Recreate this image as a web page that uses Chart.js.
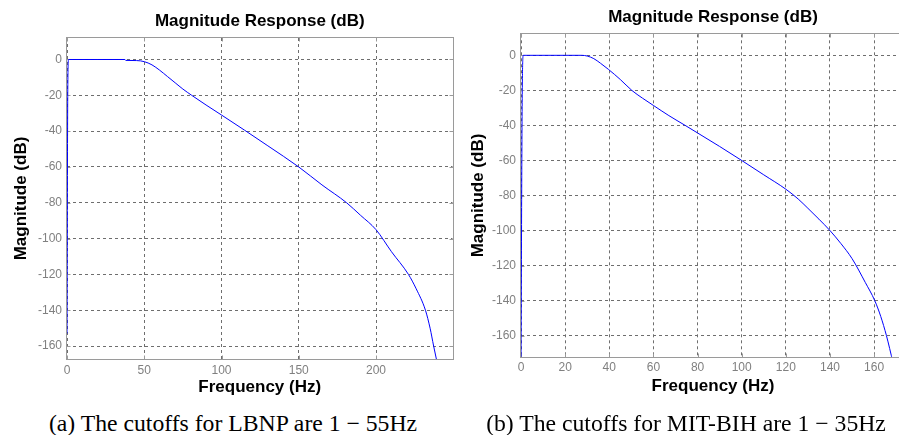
<!DOCTYPE html>
<html>
<head>
<meta charset="utf-8">
<title>Magnitude Response (dB)</title>
<script src="https://cdn.jsdelivr.net/npm/chart.js@4.4.1/dist/chart.umd.min.js"></script>
<style>
    html, body { margin: 0; padding: 0; background: #fff; overflow: hidden; }
    body { width: 899px; height: 435px; position: relative; }
    canvas { position: absolute; top: 0; }
    #chartA { left: 0; }
    #chartB { left: 450px; }
    .caption {
        position: absolute;
        top: 411px;
        font-family: "Liberation Serif", "Times New Roman", serif;
        font-size: 23.7px;
        line-height: 24px;
        white-space: nowrap;
        transform: translateX(-50%);
        color: #000;
    }
</style>
</head>
<body>
<canvas id="chartA" width="458" height="400"></canvas>
<canvas id="chartB" width="460" height="400"></canvas>
<div class="caption" style="left: 233px;">(a) The cutoffs for LBNP are 1 &minus; 55Hz</div>
<div class="caption" style="left: 686px;">(b) The cutoffs for MIT-BIH are 1 &minus; 35Hz</div>

<script>
// ==========================================
// Filter responses (frequency in Hz, magnitude in dB)
// ==========================================
const freqA = [0, 0.5, 1, 20, 37.5, 38, 45, 50, 55, 60, 65, 70, 75, 80.7, 90, 100, 115, 130, 150, 165, 181, 190, 200, 210, 221, 226, 232, 235, 237.3, 241];
const magA = [-153, -17, 0, 0, 0, -0.5, -0.6, -1.2, -3, -6, -9.5, -13, -16.5, -20, -25.4, -31, -39.5, -48.2, -60, -70, -80, -87, -95, -107.3, -120, -128, -140, -150, -160, -175];

const freqB = [0, 0.5, 1, 20, 27.5, 30, 33, 36, 39.6, 45, 50.2, 55, 60, 67, 74.4, 80, 90, 100, 110, 120, 125.6, 130, 135, 140, 145, 150, 156, 160.3, 163, 165.6, 168.5];
const magB = [-175, -32, 0, 0, 0, -0.4, -1.9, -4.5, -8, -13.8, -20, -24.4, -28.6, -34.4, -40, -44.3, -52, -60, -68.2, -76.4, -82, -87.3, -93.5, -100, -107.5, -116, -129.6, -140, -149, -160, -175];

// tick values on each axis
const yTicksDb = [-160, -140, -120, -100, -80, -60, -40, -20, 0];
const xTicksA = [0, 50, 100, 150, 200];
const xTicksB = [0, 20, 40, 60, 80, 100, 120, 140, 160];

const SANS = '"Liberation Sans", Arial, Helvetica, sans-serif';
const GRID_COLOR = '#6e6e6e';
const FRAME_COLOR = '#9a9a9a';

// ==========================================
// Box around the axes with short inward ticks
// ==========================================
const framePlugin = {
    id: 'frame',
    beforeDatasetsDraw(chart) {
        const { ctx, chartArea: a, scales } = chart;
        const l = Math.round(a.left) - 0.5;
        const r = Math.round(a.right) + 0.5;
        const t = Math.round(a.top) - 0.5;
        const b = Math.round(a.bottom) + 0.5;
        ctx.save();
        ctx.strokeStyle = FRAME_COLOR;
        ctx.lineWidth = 1;
        ctx.strokeRect(l, t, r - l, b - t);
        ctx.beginPath();
        scales.x.ticks.forEach(tk => {
            const x = Math.round(scales.x.getPixelForValue(tk.value)) + 0.5;
            ctx.moveTo(x, b); ctx.lineTo(x, b - 4);
            ctx.moveTo(x, t); ctx.lineTo(x, t + 4);
        });
        scales.y.ticks.forEach(tk => {
            const y = Math.round(scales.y.getPixelForValue(tk.value)) + 0.5;
            ctx.moveTo(l, y); ctx.lineTo(l + 4, y);
            ctx.moveTo(r, y); ctx.lineTo(r - 4, y);
        });
        ctx.stroke();
        ctx.restore();
    }
};

function buildChart(canvasId, freq, mag, cfg) {
    const ctx = document.getElementById(canvasId);
    return new Chart(ctx, {
        type: 'line',
        data: {
            datasets: [{
                data: freq.map((f, i) => ({ x: f, y: mag[i] })),
                borderColor: '#0000ff',
                borderWidth: 1,
                pointRadius: 0,
                fill: false,
                cubicInterpolationMode: 'monotone'
            }]
        },
        options: {
            responsive: false,
            animation: false,
            events: [],
            layout: { padding: { left: 0, right: cfg.padRight, top: 0, bottom: 0 } },
            plugins: {
                legend: { display: false },
                tooltip: { enabled: false },
                title: {
                    display: true,
                    text: 'Magnitude Response (dB)',
                    fullSize: false,
                    color: '#000',
                    font: { family: SANS, size: 17, weight: 'bold' },
                    padding: { top: cfg.titleTop, bottom: 6.8 }
                }
            },
            scales: {
                x: {
                    type: 'linear',
                    min: 0,
                    max: cfg.xMax,
                    afterBuildTicks: (scale) => {
                        scale.ticks = cfg.xTicks.map(v => ({ value: v }));
                    },
                    ticks: {
                        autoSkip: false,
                        maxRotation: 0,
                        color: '#808080',
                        font: { family: SANS, size: 12 },
                        padding: 4
                    },
                    grid: { color: GRID_COLOR, lineWidth: 1, drawTicks: false },
                    border: { display: false, dash: [3, 3] },
                    title: {
                        display: true,
                        text: 'Frequency (Hz)',
                        color: '#000',
                        font: { family: SANS, size: 17, weight: 'bold' },
                        padding: { top: 0, bottom: cfg.xTitleBottom }
                    },
                    afterFit: (scale) => { scale.height = 400 - cfg.plotBottom; }
                },
                y: {
                    type: 'linear',
                    min: cfg.yMin,
                    max: 12,
                    afterBuildTicks: (scale) => {
                        scale.ticks = yTicksDb.map(v => ({ value: v }));
                    },
                    ticks: {
                        autoSkip: false,
                        color: '#808080',
                        font: { family: SANS, size: 12 },
                        padding: 5
                    },
                    grid: { color: GRID_COLOR, lineWidth: 1, drawTicks: false },
                    border: { display: false, dash: [3, 3] },
                    title: {
                        display: true,
                        text: 'Magnitude (dB)',
                        color: '#000',
                        font: { family: SANS, size: 17, weight: 'bold' },
                        padding: { top: cfg.yTitleLeft, bottom: 0 }
                    },
                    afterFit: (scale) => { scale.width = cfg.plotLeft; }
                }
            }
        },
        plugins: [framePlugin]
    });
}

// (a) LBNP band-pass, 0-250 Hz
buildChart('chartA', freqA, magA, {
    xMax: 249.5, xTicks: xTicksA, yMin: -167.2,
    plotLeft: 67, plotBottom: 359, padRight: 5.5,
    titleTop: 10.8, yTitleLeft: 10.8, xTitleBottom: 2
});

// (b) MIT-BIH band-pass, 0-180 Hz
buildChart('chartB', freqB, magB, {
    xMax: 174, xTicks: xTicksB, yMin: -172,
    plotLeft: 71, plotBottom: 356.7, padRight: 5,
    titleTop: 7.1, yTitleLeft: 17.8, xTitleBottom: 3.5
});
</script>
</body>
</html>
